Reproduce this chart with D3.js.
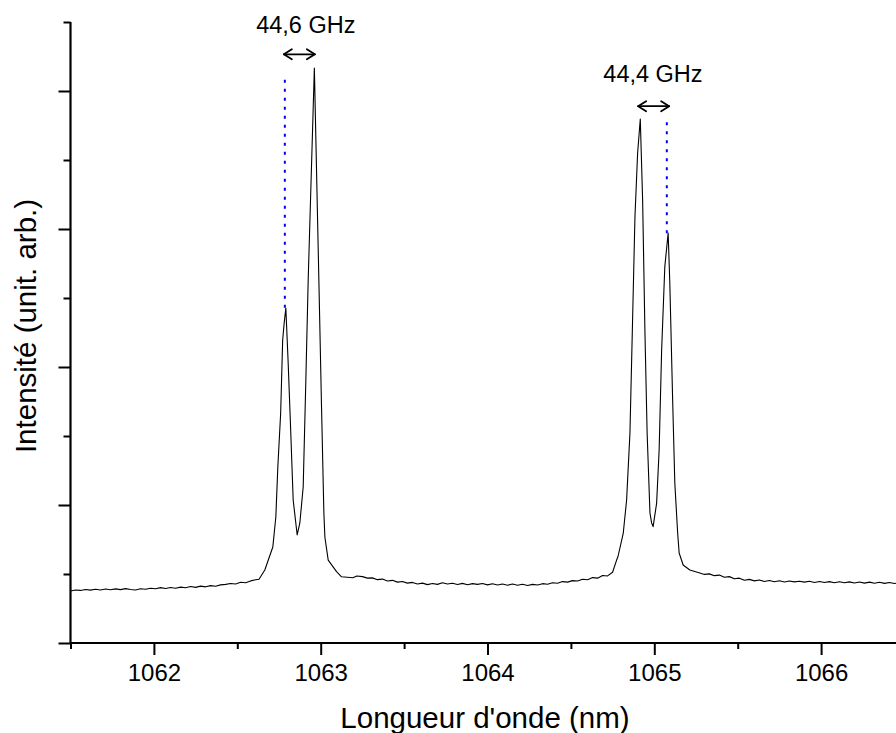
<!DOCTYPE html>
<html>
<head>
<meta charset="utf-8">
<script src="https://cdn.jsdelivr.net/npm/d3@7"></script>
<style>
  html, body { margin: 0; padding: 0; background: #fff; }
  svg { display: block; font-family: "Liberation Sans", Arial, sans-serif; }
</style>
</head>
<body>
<svg id="chart" width="896" height="733"></svg>
<script>
// Emission spectrum: [wavelength (nm), intensity (arb. units)]
const spectrum = [
  [1061.50,0.377],[1061.53,0.384],[1061.56,0.381],[1061.59,0.388],[1061.62,0.383],
  [1061.65,0.389],[1061.68,0.384],[1061.71,0.391],[1061.74,0.386],[1061.77,0.392],
  [1061.80,0.387],[1061.83,0.394],[1061.86,0.388],[1061.89,0.384],[1061.92,0.393],
  [1061.95,0.389],[1061.98,0.397],[1062.01,0.393],[1062.04,0.401],[1062.07,0.395],
  [1062.10,0.402],[1062.13,0.397],[1062.16,0.405],[1062.19,0.400],[1062.22,0.409],
  [1062.25,0.403],[1062.28,0.412],[1062.31,0.407],[1062.34,0.416],[1062.37,0.411],
  [1062.40,0.421],[1062.43,0.425],[1062.46,0.431],[1062.49,0.428],[1062.52,0.440],
  [1062.55,0.437],[1062.58,0.450],[1062.61,0.458],[1062.63,0.462],
  // first doublet
  [1062.665,0.529],[1062.713,0.696],[1062.731,0.913],[1062.743,1.275],[1062.760,1.667],
  [1062.772,2.196],[1062.781,2.319],[1062.791,2.428],[1062.805,2.029],[1062.820,1.543],
  [1062.835,1.036],[1062.859,0.783],[1062.875,0.870],[1062.895,1.130],[1062.911,1.906],
  [1062.925,2.630],[1062.962,4.167],[1062.989,2.630],[1063.005,1.710],[1063.019,0.942],
  [1063.025,0.768],[1063.045,0.601],[1063.095,0.517],[1063.125,0.480],[1063.193,0.473],
  [1063.217,0.486],
  [1063.25,0.481],[1063.28,0.470],[1063.31,0.472],[1063.34,0.459],[1063.37,0.463],
  [1063.40,0.449],[1063.43,0.454],[1063.46,0.441],[1063.49,0.446],[1063.52,0.434],
  [1063.55,0.439],[1063.58,0.428],[1063.61,0.434],[1063.64,0.423],[1063.67,0.431],
  [1063.70,0.425],[1063.73,0.436],[1063.76,0.427],[1063.79,0.433],[1063.82,0.424],
  [1063.85,0.432],[1063.88,0.422],[1063.91,0.430],[1063.94,0.425],[1063.97,0.431],
  [1064.00,0.421],[1064.03,0.429],[1064.06,0.420],[1064.09,0.428],[1064.12,0.419],
  [1064.15,0.427],[1064.18,0.418],[1064.21,0.426],[1064.24,0.417],[1064.27,0.425],
  [1064.30,0.420],[1064.33,0.430],[1064.36,0.426],[1064.39,0.437],[1064.42,0.433],
  [1064.45,0.445],[1064.48,0.441],[1064.51,0.452],[1064.54,0.449],[1064.57,0.462],
  [1064.60,0.458],[1064.63,0.474],[1064.66,0.470],[1064.69,0.489],[1064.72,0.486],
  [1064.75,0.513],
  // second doublet
  [1064.774,0.601],[1064.782,0.625],[1064.814,0.797],[1064.834,1.036],[1064.854,1.522],
  [1064.868,2.246],[1064.884,3.089],[1064.900,3.551],[1064.916,3.797],[1064.930,3.210],
  [1064.944,2.246],[1064.957,1.522],[1064.974,0.942],[1064.984,0.870],[1064.993,0.843],
  [1065.014,1.014],[1065.029,1.399],[1065.044,2.123],[1065.063,2.727],[1065.083,2.971],
  [1065.093,2.609],[1065.110,1.761],[1065.123,1.159],[1065.140,0.797],[1065.149,0.652],
  [1065.173,0.565],[1065.213,0.529],[1065.273,0.507],
  [1065.30,0.497],[1065.33,0.501],[1065.36,0.488],[1065.39,0.492],[1065.42,0.476],
  [1065.45,0.481],[1065.48,0.465],[1065.51,0.470],[1065.54,0.455],[1065.57,0.461],
  [1065.60,0.450],[1065.63,0.457],[1065.66,0.446],[1065.69,0.453],[1065.72,0.444],
  [1065.75,0.451],[1065.78,0.442],[1065.81,0.449],[1065.84,0.443],[1065.87,0.448],
  [1065.90,0.441],[1065.93,0.447],[1065.96,0.439],[1065.99,0.446],[1066.02,0.438],
  [1066.05,0.445],[1066.08,0.437],[1066.11,0.444],[1066.14,0.436],[1066.17,0.443],
  [1066.20,0.435],[1066.23,0.442],[1066.26,0.434],[1066.29,0.441],[1066.32,0.433],
  [1066.35,0.440],[1066.38,0.432],[1066.41,0.439],[1066.44,0.431],[1066.47,0.437]
];

const xMajorTicks = [1062, 1063, 1064, 1065, 1066];
const xMinorTicks = [1061.5, 1062.5, 1063.5, 1064.5, 1065.5, 1066.5];
const yMajorTicks = [0, 1, 2, 3, 4];
const yMinorTicks = [0.5, 1.5, 2.5, 3.5, 4.5];

// Mode spacing annotations: weaker mode (dotted marker) and the spacing arrow
const gapLabels   = ["44,6 GHz", "44,4 GHz"];
const markerWl    = [1062.785, 1065.075];   // dotted marker position (nm)
const markerFrom  = [2.43, 2.97];           // bottom of dotted marker
const markerTo    = [4.10, 3.80];           // top of dotted marker
const arrowFrom   = [1062.779, 1064.903];   // arrow start (nm)
const arrowTo     = [1062.965, 1065.089];   // arrow end (nm)
const arrowLevel  = [4.266, 3.89];          // arrow height
const labelWl     = [1062.911, 1064.992];   // label centre (nm)
const labelLevel  = [4.418, 4.063];         // label baseline height

const xTitle = "Longueur d'onde (nm)";
const yTitle = "Intensité (unit. arb.)";

const svg = d3.select("#chart");

const x = d3.scaleLinear().domain([1061.5, 1066.5]).range([70.5, 904.5]);
const y = d3.scaleLinear().domain([0, 4.5]).range([643, 22]);

// spectrum trace
svg.append("path")
  .datum(spectrum)
  .attr("fill", "none")
  .attr("stroke", "#000")
  .attr("stroke-width", 1.1)
  .attr("stroke-linejoin", "round")
  .attr("d", d3.line().x(d => x(d[0])).y(d => y(d[1])));

// x axis: major ticks with labels, minor ticks without
const xMajor = svg.append("g")
  .attr("transform", `translate(0,${y(0)})`)
  .call(d3.axisBottom(x).tickValues(xMajorTicks).tickSize(12).tickPadding(9)
        .tickFormat(d3.format("d")));
xMajor.select(".domain").remove();
xMajor.selectAll("text").attr("font-size", 24).attr("font-family", "Liberation Sans, Arial, sans-serif").attr("fill", "#000");

const xMinor = svg.append("g")
  .attr("transform", `translate(0,${y(0)})`)
  .call(d3.axisBottom(x).tickValues(xMinorTicks).tickSize(6).tickFormat(""));
xMinor.select(".domain").remove();

// y axis: unlabeled ticks
const yMajor = svg.append("g")
  .attr("transform", `translate(${x(1061.5)},0)`)
  .call(d3.axisLeft(y).tickValues(yMajorTicks).tickSize(12).tickFormat(""));
yMajor.select(".domain").remove();
const yMinor = svg.append("g")
  .attr("transform", `translate(${x(1061.5)},0)`)
  .call(d3.axisLeft(y).tickValues(yMinorTicks).tickSize(7).tickFormat(""));
yMinor.select(".domain").remove();
svg.selectAll(".tick line").attr("stroke", "#000").attr("stroke-width", 2);

// axis lines
svg.append("line")
  .attr("x1", x(1061.5)).attr("x2", 896)
  .attr("y1", y(0)).attr("y2", y(0))
  .attr("stroke", "#000").attr("stroke-width", 2.2);
svg.append("line")
  .attr("x1", x(1061.5)).attr("x2", x(1061.5))
  .attr("y1", y(0) + 1).attr("y2", y(4.5))
  .attr("stroke", "#000").attr("stroke-width", 2.2);

// dotted markers on the weaker mode of each doublet
markerWl.forEach((wl, i) => {
  svg.append("line")
    .attr("x1", x(wl)).attr("x2", x(wl))
    .attr("y1", y(markerFrom[i])).attr("y2", y(markerTo[i]))
    .attr("stroke", "#0000ff").attr("stroke-width", 2)
    .attr("stroke-dasharray", "3,6");
});

// double-headed arrows with open heads, and the spacing label above each
arrowFrom.forEach((a, i) => {
  const x1 = x(a), x2 = x(arrowTo[i]), yy = y(arrowLevel[i]);
  const g = svg.append("g").attr("fill", "none").attr("stroke", "#000")
    .attr("stroke-width", 1.8).attr("stroke-linecap", "round").attr("stroke-linejoin", "round");
  g.append("line").attr("x1", x1).attr("x2", x2).attr("y1", yy).attr("y2", yy);
  g.append("path").attr("d", `M${x1 + 8},${yy - 5}L${x1},${yy}L${x1 + 8},${yy + 5}`);
  g.append("path").attr("d", `M${x2 - 8},${yy - 5}L${x2},${yy}L${x2 - 8},${yy + 5}`);
  svg.append("text")
    .attr("x", x(labelWl[i]))
    .attr("y", y(labelLevel[i]))
    .attr("text-anchor", "middle")
    .attr("font-size", 23.5)
    .attr("fill", "#000")
    .text(gapLabels[i]);
});

// axis titles
svg.append("text")
  .attr("x", 485).attr("y", 728)
  .attr("text-anchor", "middle")
  .attr("font-size", 29.5)
  .attr("fill", "#000")
  .text(xTitle);
svg.append("text")
  .attr("transform", "translate(36,326) rotate(-90)")
  .attr("text-anchor", "middle")
  .attr("font-size", 29.5)
  .attr("fill", "#000")
  .text(yTitle);
</script>
</body>
</html>
